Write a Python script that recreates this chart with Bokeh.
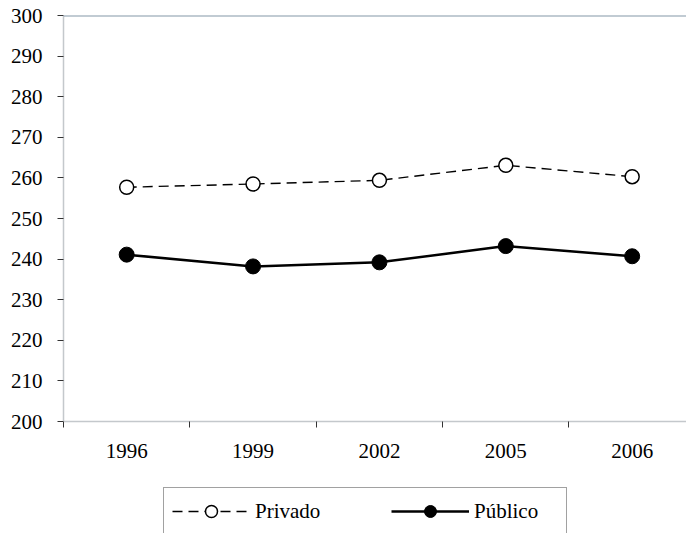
from bokeh.plotting import figure
from bokeh.layouts import column
from bokeh.models import (FixedTicker, Range1d, Span, Legend, LegendItem, ColumnDataSource)
from bokeh.embed import file_html
from bokeh.resources import INLINE

years = ["1996", "1999", "2002", "2005", "2006"]
privado = [257.7, 258.5, 259.4, 263.1, 260.3]
publico = [241.1, 238.2, 239.2, 243.2, 240.7]
y_ticks = list(range(200, 301, 10))
series_names = ["Privado", "Público"]

xs = list(range(len(years)))
src = ColumnDataSource(dict(x=xs, priv=privado, pub=publico))

FONT = "Liberation Serif"
FS = "21px"

p = figure(width=686, height=470, output_backend="svg", toolbar_location=None,
           x_range=Range1d(-0.5, 4.43), y_range=Range1d(200, 300),
           min_border_left=63, min_border_top=15, min_border_right=0, min_border_bottom=49)
p.grid.visible = False
p.outline_line_color = None
p.background_fill_color = "white"
p.border_fill_color = "white"

# x axis
p.xaxis.ticker = FixedTicker(ticks=xs, minor_ticks=[-0.5, 0.5, 1.5, 2.5, 3.5])
p.xaxis.major_label_overrides = {i: y for i, y in enumerate(years)}
p.xaxis.major_tick_in = 0
p.xaxis.major_tick_out = 0
p.xaxis.minor_tick_in = 0
p.xaxis.minor_tick_out = 6
p.xaxis.minor_tick_line_color = "#333333"
p.xaxis.axis_line_color = "#c4c8cc"
p.xaxis.axis_line_width = 1.5
p.xaxis.major_label_standoff = 16
p.xaxis.major_label_text_font = FONT
p.xaxis.major_label_text_font_size = FS
p.xaxis.major_label_text_color = "black"

# y axis
p.yaxis.ticker = FixedTicker(ticks=y_ticks, minor_ticks=[])
p.yaxis.major_tick_in = 0
p.yaxis.major_tick_out = 6
p.yaxis.major_tick_line_color = "#333333"
p.yaxis.axis_line_color = "#c4c8cc"
p.yaxis.axis_line_width = 1.5
p.yaxis.major_label_standoff = 15
p.yaxis.major_label_text_font = FONT
p.yaxis.major_label_text_font_size = FS
p.yaxis.major_label_text_color = "black"

p.add_layout(Span(location=300, dimension="width", line_color="#8497a8", line_width=2))

priv_style = dict(line_color="black", line_width=1.4, line_dash="10 6")
priv_mark = dict(size=14, marker="circle", fill_color="white", line_color="black", line_width=1.5)
pub_style = dict(line_color="black", line_width=2.5)
pub_mark = dict(size=15, marker="circle", fill_color="black", line_color="black")

p.line("x", "priv", source=src, **priv_style)
p.scatter("x", "priv", source=src, **priv_mark)
p.line("x", "pub", source=src, **pub_style)
p.scatter("x", "pub", source=src, **pub_mark)

# legend figure (dummy renderers placed outside the visible range)
p2 = figure(width=686, height=63, output_backend="svg", toolbar_location=None,
            x_range=Range1d(0, 1), y_range=Range1d(0, 1),
            min_border_left=0, min_border_right=0,
            min_border_top=0, min_border_bottom=0)
p2.axis.visible = False
p2.grid.visible = False
p2.outline_line_color = None
p2.background_fill_color = "white"
p2.border_fill_color = "white"
dummy = ColumnDataSource(dict(x=[-10, -11], y=[-10, -11]))
a1 = p2.line("x", "y", source=dummy, **priv_style)
a2 = p2.scatter("x", "y", source=dummy, **priv_mark)
b1 = p2.line("x", "y", source=dummy, **pub_style)
b2 = p2.scatter("x", "y", source=dummy, **pub_mark)

legend = Legend(items=[LegendItem(label=series_names[0], renderers=[a1, a2]),
                       LegendItem(label=series_names[1], renderers=[b1, b2])],
                orientation="horizontal", location=(100, -2),
                label_text_font=FONT, label_text_font_size=FS, label_text_color="black",
                glyph_width=78, glyph_height=30, label_standoff=5, spacing=52,
                label_width=84, padding=8, margin=0,
                border_line_color="#444444", border_line_width=1.2,
                background_fill_color="white", background_fill_alpha=1)
p2.add_layout(legend, "center")

layout = column(p, p2, spacing=0)
open("out.html", "w").write(file_html(layout, INLINE))
